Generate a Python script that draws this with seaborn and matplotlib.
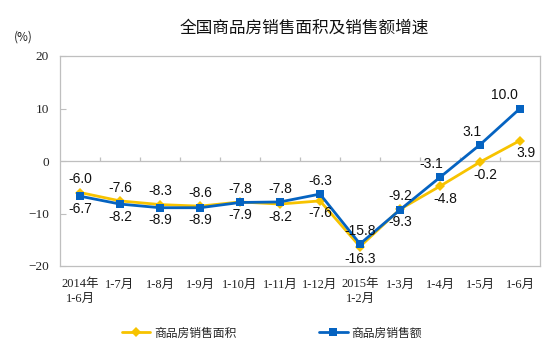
import matplotlib
matplotlib.use('Agg')
import matplotlib.pyplot as plt
import seaborn as sns
import pandas as pd

# data
periods = ['2014年\n1-6月', '1-7月', '1-8月', '1-9月', '1-10月', '1-11月', '1-12月',
           '2015年\n1-2月', '1-3月', '1-4月', '1-5月', '1-6月']
area_growth = [-6.0, -7.6, -8.3, -8.6, -7.8, -8.2, -7.6, -16.3, -9.2, -4.8, -0.2, 3.9]
sales_growth = [-6.7, -8.2, -8.9, -8.9, -7.9, -7.8, -6.3, -15.8, -9.3, -3.1, 3.1, 10.0]
series_names = ['商品房销售面积', '商品房销售额']
yticks = [-20, -10, 0, 10, 20]

sns.set_style('white')
plt.rcParams['font.family'] = ['Noto Sans CJK SC', 'DejaVu Sans']

df = pd.DataFrame({'period': periods,
                   series_names[0]: area_growth,
                   series_names[1]: sales_growth})
df['x'] = range(len(df))
df_long = df.melt(id_vars=['period', 'x'], value_vars=series_names,
                  var_name='series', value_name='growth')

palette = {series_names[0]: '#F7C300', series_names[1]: '#0563C1'}
markers = {series_names[0]: 'D', series_names[1]: 's'}

fig = plt.figure(figsize=(5.54, 3.53), dpi=100)
ax = fig.add_axes([60 / 554, 87 / 353, 480 / 554, 210 / 353])

sns.lineplot(data=df_long, x='x', y='growth', hue='series', style='series',
             palette=palette, markers=markers, dashes=False, linewidth=2.0,
             markersize=5.5, markeredgewidth=0, ax=ax, legend=True)

ax.set_xlim(-0.5, len(periods) - 0.5)
ax.set_ylim(yticks[0], yticks[-1])
ax.set_yticks(yticks)
ax.set_xticks(df['x'])
ax.set_xticklabels(periods, family=['Liberation Serif', 'Noto Sans CJK SC'],
                   fontsize=9, linespacing=1.3)
for lbl in ax.get_yticklabels():
    lbl.set_family('Liberation Serif')
ax.tick_params(axis='x', length=0, pad=9, colors='#222222')
ax.tick_params(axis='y', direction='in', length=4, width=0.8, color='#BFBFBF',
               labelsize=9.5, pad=8, labelcolor='#222222', left=True)
for sp in ax.spines.values():
    sp.set_color('#BFBFBF')
    sp.set_linewidth(0.9)
ax.set_xlabel('')
ax.set_ylabel('')

# zero line with category boundary ticks
ax.axhline(0, color='#BFBFBF', linewidth=0.9, zorder=1)
ax.vlines([i + 0.5 for i in range(len(periods) - 1)], 0, 0.8,
          color='#BFBFBF', linewidth=0.9, zorder=1)

# data labels: higher value above, lower value below
for i in range(len(periods)):
    a, s = area_growth[i], sales_growth[i]
    for val, other in ((a, s), (s, a)):
        above = val >= other
        dx = 0
        if i >= 9:
            dx = -6 if above else 4
        if i == len(periods) - 1 and above:
            dx = -11
        ax.annotate(f'{val:.1f}', (i, val), textcoords='offset points',
                    xytext=(dx, 9.5 if above else -9), ha='center', va='center',
                    fontsize=10, family='Liberation Sans', color='#111111')

fig.text(304 / 554, 1 - 28 / 353, '全国商品房销售面积及销售额增速', ha='center',
         va='center', fontsize=12, color='#111111')
fig.text(23 / 554, 1 - 37 / 353, '(%)', ha='center', va='center', fontsize=8.5,
         color='#222222')

handles, labels = ax.get_legend_handles_labels()
ax.get_legend().remove()
fig.legend(handles, labels, loc='center', bbox_to_anchor=(272 / 554, 1 - 333 / 353),
           ncol=2, frameon=False, fontsize=8.5, handlelength=2.4,
           handletextpad=0.35, columnspacing=7)

fig.savefig('out.png', dpi=100)
